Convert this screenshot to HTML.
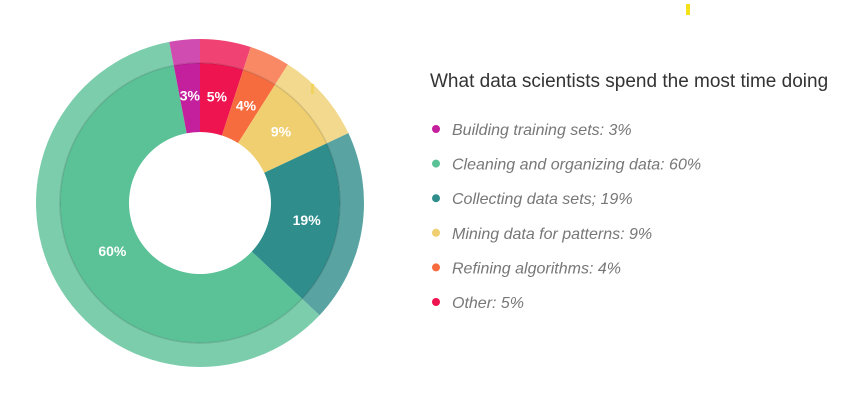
<!DOCTYPE html>
<html><head><meta charset="utf-8"><style>
body{margin:0;width:868px;height:406px;background:#fff;overflow:hidden;font-family:"Liberation Sans",sans-serif}
</style></head><body>
<svg id="chart" width="868" height="406" viewBox="0 0 868 406" xmlns="http://www.w3.org/2000/svg">
<rect x="686" y="4" width="4" height="11" fill="#f5e11a"/>
<rect x="311" y="84" width="3" height="10" fill="#f5e11a"/>
<g id="slices"></g>
<g id="labels"></g>
<text x="430" y="87" font-size="19" fill="#333">What data scientists spend the most time doing</text>
<g id="legend"></g>
</svg>
<script>
const categories=["Other","Refining algorithms","Mining data for patterns","Collecting data sets","Cleaning and organizing data","Building training sets"];
const values=[5,4,9,19,60,3];
const colors=["#ee1450","#f76c3f","#f0cf70","#2f8d8c","#5bc197","#c41f9c"];
const legendOrder=[5,4,3,2,1,0];
const legendLabels=["Building training sets: 3%","Cleaning and organizing data: 60%","Collecting data sets; 19%","Mining data for patterns: 9%","Refining algorithms: 4%","Other: 5%"];
const NS="http://www.w3.org/2000/svg";
const cx=200,cy=203,R=164,Rm=140,r0=71;
const total=values.reduce((a,b)=>a+b,0);
function pt(a,rad){return [cx+rad*Math.sin(a),cy-rad*Math.cos(a)];}
function arc(a0,a1,ro,ri){const l=(a1-a0)>Math.PI?1:0;const p1=pt(a0,ro),p2=pt(a1,ro),p3=pt(a1,ri),p4=pt(a0,ri);
return `M${p1}A${ro},${ro} 0 ${l} 1 ${p2}L${p3}A${ri},${ri} 0 ${l} 0 ${p4}Z`;}
const gs=document.getElementById('slices'),gl=document.getElementById('labels');
let acc=0;
values.forEach((v,i)=>{
 const a0=acc/total*2*Math.PI;acc+=v;const a1=acc/total*2*Math.PI;
 const o=document.createElementNS(NS,'path');
 o.setAttribute('d',arc(a0,a1,R,Rm));o.setAttribute('fill',colors[i]);o.setAttribute('opacity','0.8');
 
 
 gs.appendChild(o);
 const p=document.createElementNS(NS,'path');
 p.setAttribute('d',arc(a0,a1,Rm,r0));p.setAttribute('fill',colors[i]);
 
 
 gs.appendChild(p);
 const m=(a0+a1)/2;const lp=pt(m,v>30?100:108);
 const t=document.createElementNS(NS,'text');
 t.setAttribute('x',lp[0]);t.setAttribute('y',lp[1]+5);t.setAttribute('text-anchor','middle');
 t.setAttribute('font-size','14');t.setAttribute('font-weight','bold');t.setAttribute('fill','#fff');
 t.textContent=v+'%';
 
 
 gl.appendChild(t);
});
const c=document.createElementNS(NS,'circle');
c.setAttribute('cx',cx);c.setAttribute('cy',cy);c.setAttribute('r',Rm);c.setAttribute('fill','none');c.setAttribute('stroke','rgba(0,0,0,0.12)');c.setAttribute('stroke-width','1.5');


gs.appendChild(c);
const lg=document.getElementById('legend');
legendOrder.forEach((idx,k)=>{
 const y=129+k*34.6;
 const d=document.createElementNS(NS,'circle');
 d.setAttribute('cx',436);d.setAttribute('cy',y);d.setAttribute('r',4);d.setAttribute('fill',colors[idx]);
 
 
 lg.appendChild(d);
 const t=document.createElementNS(NS,'text');
 t.setAttribute('x',452);t.setAttribute('y',y+6);t.setAttribute('font-size','16');t.setAttribute('font-style','italic');t.setAttribute('fill','#777');
 t.textContent=legendLabels[k];
 
 
 lg.appendChild(t);
});
</script>
</body></html>
